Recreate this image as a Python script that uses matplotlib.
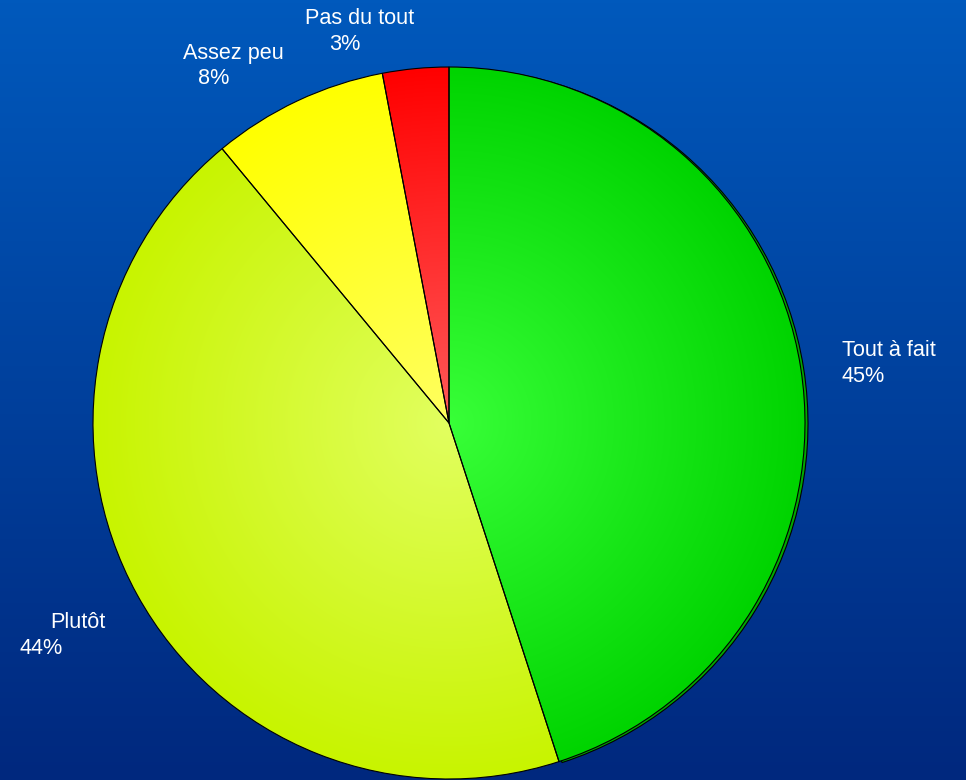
import numpy as np
import matplotlib
matplotlib.use("Agg")
import matplotlib.pyplot as plt
from matplotlib.colors import to_rgb
from matplotlib.patches import Wedge

# --- data ---
labels = ["Tout à fait", "Plutôt", "Assez peu", "Pas du tout"]
values = [45, 44, 8, 3]
pct_labels = ["45%", "44%", "8%", "3%"]
center_colors = ["#38ff38", "#e2ff60", "#ffff60", "#ff5a5a"]
edge_colors = ["#00d400", "#c8f400", "#ffff00", "#ff0000"]

W, H = 966, 780
CX, CY, R = 449, H - 423, 356

# label positions in pixels (left x of text, y of line centre from top)
name_pos = [(842, 351), (50, 623), (183, 54), (305, 19)]
pct_pos = [(842, 377), (20, 648), (198, 79), (329, 45)]

fig = plt.figure(figsize=(W / 100, H / 100), dpi=100)
ax = fig.add_axes([0, 0, 1, 1])

# background vertical gradient
top = np.array(to_rgb("#0059bc"))
bot = np.array(to_rgb("#00287e"))
t = np.linspace(0, 1, 256)[:, None, None]
bg = top * (1 - t) + bot * t
bg = np.repeat(bg, 2, axis=1)
ax.imshow(bg, extent=[0, W, 0, H], aspect="auto", zorder=0)

wedges, _ = ax.pie(values, startangle=90, counterclock=False, radius=R,
                   center=(CX, CY), frame=True,
                   wedgeprops=dict(edgecolor="black", linewidth=0.8))

# slight shadow edge behind the first (green) slice
w0 = wedges[0]
shadow = Wedge((CX + 3, CY - 1), R, w0.theta1, w0.theta2, facecolor="#00a800",
               edgecolor="black", linewidth=0.8, zorder=1)
ax.add_patch(shadow)

# radial gradient fill per slice
n = 400
xs = np.linspace(CX - R, CX + R, n)
ys = np.linspace(CY - R, CY + R, n)
gx, gy = np.meshgrid(xs, ys)
rr = np.clip(np.hypot(gx - CX, gy - CY) / R, 0, 1)[..., None]
for w, c0, c1 in zip(wedges, center_colors, edge_colors):
    a = np.array(to_rgb(c0))
    b = np.array(to_rgb(c1))
    img = a * (1 - rr) + b * rr
    w.set_facecolor("none")
    w.set_zorder(3)
    im = ax.imshow(img, extent=[CX - R, CX + R, CY - R, CY + R], origin="lower",
                   zorder=2, interpolation="bilinear")
    im.set_clip_path(w)

for name, pct, (nx, ny), (px, py) in zip(labels, pct_labels, name_pos, pct_pos):
    ax.text(nx, H - ny, name, color="white", fontsize=15.6, family="Liberation Sans",
            ha="left", va="center", zorder=5)
    ax.text(px, H - py, pct, color="white", fontsize=15.6, family="Liberation Sans",
            ha="left", va="center", zorder=5)

ax.set_xlim(0, W)
ax.set_ylim(0, H)
ax.set_aspect("auto")
ax.axis("off")

fig.savefig("out.png", dpi=100)
